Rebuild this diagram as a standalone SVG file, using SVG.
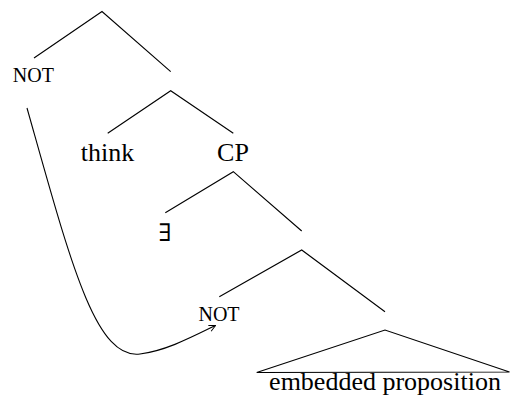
<svg xmlns="http://www.w3.org/2000/svg" width="510" height="406" viewBox="0 0 510 406">
<style>
text{fill:#000;text-anchor:middle}
.t{font-size:26px}
.s{font-size:20px}
.e{font-size:24px}
.l{stroke:#000;stroke-width:1.1;fill:none}
</style>
<defs>
<marker id="arr" viewBox="0 0 10 10" refX="9" refY="5" markerWidth="8" markerHeight="8" markerUnits="userSpaceOnUse" orient="auto">
<path d="M1,1 L9,5 L1,9" fill="none" stroke="#000" stroke-width="1.2"/>
</marker>
</defs>
<g id="connectors">
<path class="l" d="M34,58 L102,11.5 L170.7,71.7"/>
<path class="l" d="M107.7,133.3 L170.7,90.7 L233.3,133.3"/>
<path class="l" d="M165.3,212.7 L233.3,171.7 L301.7,231"/>
<path class="l" d="M219.3,296.7 L301.7,250 L385,311.7"/>
<path class="l" d="M27,108 C70,260 95,360 140,354 C165,351 190,338 215.5,325.5" marker-end="url(#arr)"/>
</g>
<g id="not-top"><text class="s" font-family="Liberation Serif, serif" x="33.4" y="81.7">NOT</text></g>
<g id="think"><text class="t" font-family="Liberation Serif, serif" x="107.5" y="161">think</text></g>
<g id="cp"><text class="t" font-family="Liberation Serif, serif" x="233" y="161">CP</text></g>
<g id="exists"><text class="e" font-family="DejaVu Serif, serif" x="165" y="240.7">∃</text></g>
<g id="not-low"><text class="s" font-family="Liberation Serif, serif" x="219" y="321">NOT</text></g>
<g id="embedded">
<path class="l" d="M256.7,372.5 L385,330 L509.5,372 Z"/>
<text class="t" font-family="Liberation Serif, serif" x="385" y="389.5">embedded proposition</text>
</g>
</svg>
